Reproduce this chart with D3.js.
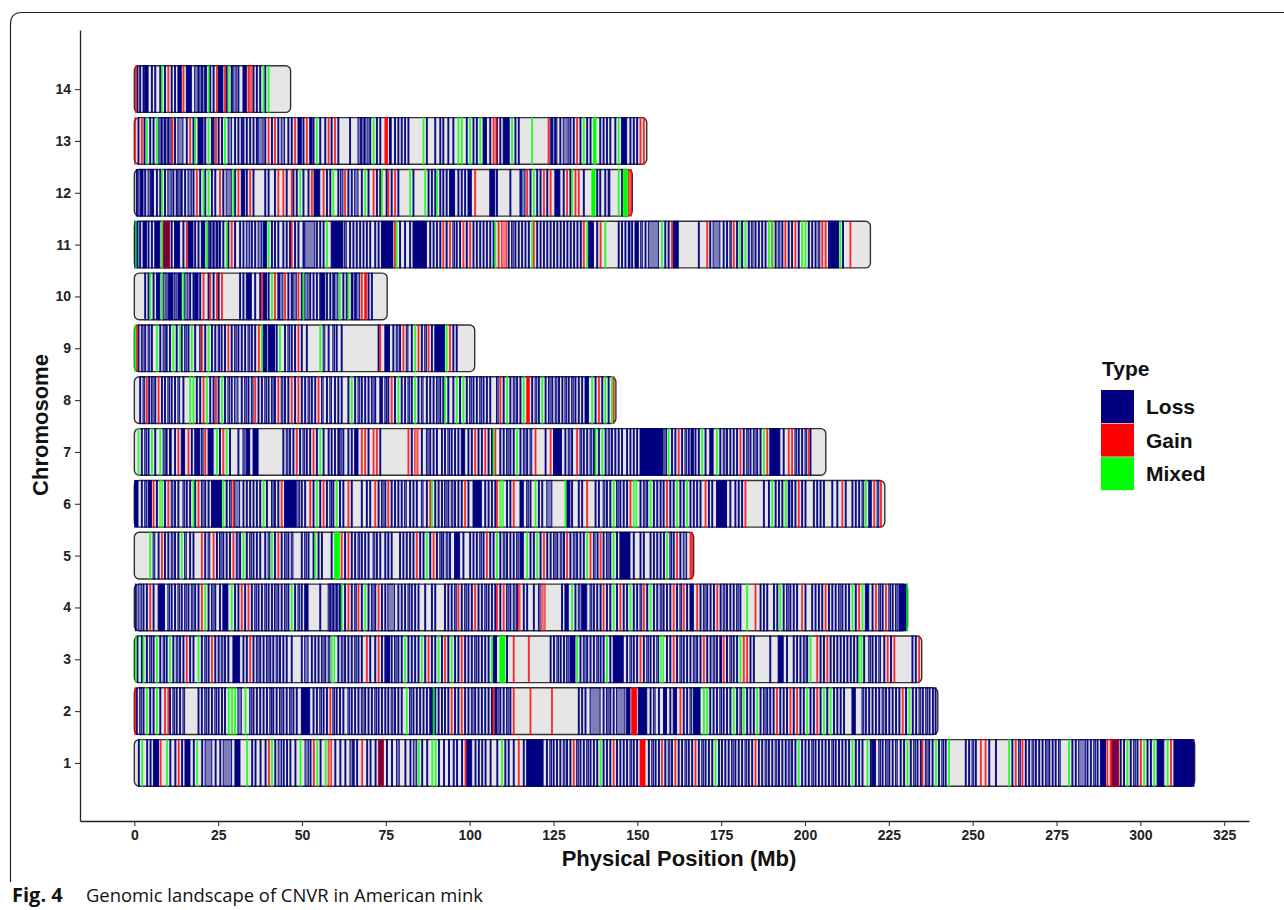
<!DOCTYPE html>
<html>
<head>
<meta charset="utf-8">
<script src="https://cdn.jsdelivr.net/npm/d3@7"></script>
<style>
  body { margin: 0; background: #fff; }
  svg { display: block; }
</style>
</head>
<body>
<div id="chart"></div>
<script>
// chromosome labels and lengths (Mb), chr1 first
const chromosomes = ["1","2","3","4","5","6","7","8","9","10","11","12","13","14"];
const chromLengths = [316.2, 239.6, 234.8, 230.6, 166.8, 223.8, 206.2, 143.6, 101.5, 75.4, 219.5, 148.5, 152.8, 46.6];

// CNVR positions in Mb, one list per chromosome (index 0 = chr1)
// a number = narrow CNVR starting there, [a, b] = wider CNVR, [a, b, 1] = dense cluster
const lossBands = [
  // chr1
  [1.2,3.7,4.7,[5.7,7.2,1],10.6,12.1,14.1,[15.1,16.6,1],17.6,20.1,[21.1,23.1],24.1,25.5,[26.5,29],[30,31.5,1],35,36,37.5,39,41.9,[42.9,43.9],44.4,45.4,46.4,47.9,[50.9,51.9],52.4,55.4,59.8,61.3,62.8,[64.3,65.1],65.3,66.3,69.3,70.3,71.8,[72.8,74.3,1],75.2,76.7,[78.2,79],80.7,82.2,[83.2,84.2],85.7,87.2,90.7,92.2,93.7,95.1,96.1,97.6,[99.1,100.6,1],101.6,102.6,103.6,104.6,106.1,108.1,110.5,111.5,113,116,[117,121.9,1],122.9,[123.9,124.4],124.9,125.9,126.9,[127.9,128.4],128.9,129.9,[131.9,132.4],132.9,133.9,[134.9,135.4],135.9,136.9,137.9,139.8,140.8,141.8,143.8,144.8,145.8,146.8,[147.8,148.3],148.8,149.8,153.3,[154.3,154.8],155.3,156.3,158.2,[159.2,159.7],160.2,162.2,163.2,[164.2,164.7],165.2,166.2,168.2,[169.2,169.7],170.2,171.2,172.2,174.2,175.1,176.1,177.1,[178.1,178.6],179.1,180.1,181.1,[182.1,182.6],183.1,184.1,186.1,187.1,[188.1,188.6],189.1,190.1,[191.1,191.6],192.1,193.1,194.1,[195,195.5],196,197,199,200,201,[202,202.5],203,204,205,206,207,[208,208.5],209,210,211,212,213,215,216,217,219.5,[220,221,1],[222,222.5],223,[224,224.5],225,226,[227,227.5],228.4,229.4,231.4,[232.4,232.9],233.4,234.4,[235.9,236.4],236.9,237.9,239.8,[240.8,241.3],241.8,247.8,248.8,[249.8,250.3],250.8,254.8,256.8,261.7,[263.7,264.2],265.7,266.7,[267.7,268.2],268.7,269.7,270.7,[271.7,272.2],272.7,273.7,274.6,[275.6,276.1],279.6,280.6,[281.6,283.6],284.1,285.1,[286.1,286.6],287.1,[288.1,289.6,1],[291.5,293.5,1],294,295,297,[298,298.5],299,302,303,[305,307,1],[310,316,1]],
  // chr2
  [0.6,[1.6,2.1],2.6,4.6,5.6,7.6,10.5,[11.5,12],12.5,13.5,[14.5,15],19,20,[21,21.5],22,23,[24,24.5],25,26,26.9,[30.9,31.9],[34.4,35],35.4,36.4,37.4,38.4,39.4,[40.4,40.9],41.3,42.3,[43.3,43.8],44.3,45.3,[46.3,46.8],47.3,48.3,[49.8,52.3,1],53.3,54.3,[55.3,55.8],56.3,57.3,[59.2,59.7],60.2,61.2,62.2,[63.7,64.2],64.7,65.7,66.7,[67.7,68.2],68.7,69.7,70.7,[71.7,72.2],72.7,73.7,74.7,75.6,[76.6,77.1],77.6,78.6,79.6,[82.1,82.6],83.1,84.1,85.1,86.1,87.1,88.1,[88.6,89.1,1],89.6,90.6,91.6,92.5,93.5,95.5,96.5,98.5,99.5,[100.5,101],101.5,102.5,103.5,104.5,105.5,106.5,107.5,[108,108.5],109,110,[111,111.5],112,132.4,133.4,134.4,[135.9,138.9],139.8,[140.8,141.3],141.8,142.8,[143.8,146.3],[146.8,147.8,1],[150.3,152.8,1],153.8,[154.8,155.3],156.3,[157.8,158.7,1],159.7,[160.7,161.7,1],163.7,164.7,[165.7,166.2],[166.7,168.7,1],171.6,172.6,173.6,[174.6,175.1],175.6,176.6,177.6,179.6,[180.6,181.1],182.6,183.6,184.6,186.6,[187.6,188.1],188.6,189.5,190.5,192.5,193.5,194.5,196.5,198.5,199.5,201.5,202.5,204.5,206.5,208.5,209.5,210.5,211.5,[214,215,1],[217,217.5],218,219,220,221,222,[223,223.5],224,225,226,227,228,230,232,233,[234,234.5],235,[236,236.5],237,238,238.8],
  // chr3
  [0.8,2.1,3.6,[4.6,5.1],5.6,7.6,[8.6,9],9.5,11.5,[12.5,13],13.5,14.5,16.5,17.5,20,[21,21.5],22,24,25,[25.9,26.4],26.9,27.9,[29.4,31.4,1],32.4,33.4,35.4,[36.4,36.9],37.4,38.4,[39.4,39.9],40.4,41.3,[42.3,42.8],43.3,44.3,45.3,46.8,49.8,[50.8,51.8],52.8,53.8,54.8,[55.8,56.3],56.8,[57.8,58.3],60.7,[61.7,62.2],62.7,63.7,64.7,[65.7,66.2],66.7,67.7,70.2,71.7,73.7,74.7,[75.2,76.1,1],76.6,[77.6,78.1],78.6,79.6,81.6,82.6,83.6,84.6,86.6,88.6,89.6,91.6,93.5,95.5,96.5,98.5,99.5,100.5,[101.5,102],102.5,103.5,104.5,105.5,[107,108,1],111,124,125,[126,126.5],127,128,[128.9,129.4],[129.9,131.4,1],132.9,[133.9,134.4],134.9,135.9,136.9,[137.9,138.4],138.9,139.8,141.8,[142.8,145.8,1],146.8,[147.8,148.3],148.8,149.8,151.8,[152.8,153.3],153.8,154.8,[155.8,156.3],158.7,159.7,161.7,[162.7,163.2],163.7,164.7,165.7,[166.7,167.2],167.7,168.7,170.7,171.7,[172.6,173.1],173.6,[174.6,175.1,1],176.6,[177.6,178.1],178.6,179.6,183.6,184.6,189.5,[192,193.5,1],194.5,196.5,197.5,198.5,[199.5,200],200.5,204.5,205.5,207.5,208.5,209.5,210.5,211.5,212.5,213.5,214.5,215.5,217.5,[219,219.5],220,221,[222,222.5],223.5,225.5,231.9,232.9],
  // chr4
  [0.3,[1.1,2.1],2.6,3.6,5.6,[7.1,9,1],[10,10.5],11,12,[13,13.5],14,[15,15.5],16,[17,17.5],18,19,22,[23,23.5],24,25.4,[26.4,27.9,1],29.9,30.9,32.9,34.9,[35.9,36.4],36.9,37.9,[38.9,39.4],39.9,40.9,[41.8,42.3],42.8,43.8,[44.8,45.3],45.8,47.8,[48.8,49.3],49.8,[50.8,51.8,1],55.3,[57.8,61.7],58.3,59.2,60.2,61.2,62.7,64.7,[65.7,66.2],67.7,69.7,[70.7,71.2],71.7,73.7,74.7,[75.6,77.6],78.6,79.6,80.6,[81.6,82.1],82.6,83.6,84.6,86.6,88.6,89.6,92.5,93.5,94.5,[95.5,96],97.5,[98.5,99],99.5,100.5,102.5,103.5,[104.5,105],105.5,106.5,107.5,109,[111,111.5],112,[113,113.5],114,116,117,119,[120.5,121],127.4,[128.4,129.4,1],131.4,[132.4,132.9],[133.4,134.9,1],[135.9,136.4],136.9,137.9,138.9,140.8,141.8,143.8,145.8,146.8,148.8,149.8,[150.8,151.3],152.8,154.8,155.8,[156.8,157.3],157.7,158.7,159.7,161.7,[162.7,163.2],164.7,[165.7,166.7,1],168.7,[169.7,170.2],170.7,171.7,172.7,174.7,[175.6,176.1],176.6,177.6,178.6,[179.6,180.1],180.6,186.6,187.6,188.6,190.6,191.6,193.5,[194.5,195],195.5,196.5,197.5,200,202,203,204,205,207,208,209,[210,210.5],211,212,213,215,[218,219,1],220,[222,222.5],223,[225,225.5],226,[227,227.5],[228,230.4,1]],
  // chr5
  [[5.6,6.1],7.1,9,10,[11,11.5],12,13,[15,15.5],16.5,17.5,21,[22,22.5],24.5,[25.4,25.9],26.4,27.4,28.4,[30.4,30.9],31.4,33.4,[34.4,34.9],35.4,36.4,37.4,38.9,[39.9,40.4],41.8,43.8,[44.8,45.3],45.8,[46.8,47.3],49.8,[50.8,51.3],51.8,53.3,54.8,55.8,58.7,62.7,64.7,65.7,[66.7,67.2],67.7,68.7,69.7,[71.2,71.7],72.2,73.2,74.7,75.6,76.6,79.1,80.1,81.1,82.1,83.1,85.1,86.1,88.1,90.1,[91.1,91.6],92,[93,93.5],94,[95.5,97,1],98,100,101,102,[103,103.5],104,106,107,109,[110,110.5],111,112,113,[114,114.5],[115,116,1],118,119,121,123,124,[125,125.5],126,[127,127.5],128,129.9,[130.9,131.4],131.9,132.9,133.9,[136.9,137.4],138,139.8,[140.8,141.3],141.8,143.8,[144.8,147.8,1],148.8,150.8,151.8,153.8,154.8,155.8,156.8,157.8,[159.7,160.2],160.7,162.7,[163.7,164.7]],
  // chr6
  [[0.1,1.1,1],2.1,[3.1,3.6],[4.1,5.1,1],6.6,9,[11,11.5],12,13,[14.5,15],15.5,16.5,18,[20,20.5],21,22,[23,26,1],27.4,[28.4,28.9],[29.9,31.4],32.4,33.4,34.4,35.4,36.4,37.4,39.4,[40.9,41.4],41.8,42.8,[44.8,48.3,1],[48.8,49.3],49.8,50.8,53.3,55.3,57.3,[58.3,58.8],59.2,61.2,62.2,64.7,67.7,69.2,70.2,72.7,[73.7,74.2],74.7,76.6,77.6,78.6,79.6,[80.6,81.1],82.1,83.1,84.1,[85.6,86.1],87.1,89.6,90.6,91.6,[92.5,93],93.5,[94.5,95],95.5,96.5,97.5,99.5,[101,103.5,1],104.5,105.5,106.5,107.5,111,112,[115,116,1],[117,117.5],118,120.5,121.5,[123,124.5],[129,129.9,1],130.4,132.4,133.4,137.4,138.4,[139.8,140.3],140.8,141.8,[143.8,144.3],144.8,145.8,146.8,150.8,[151.8,152.3],152.8,154.8,155.8,156.8,157.7,159.7,160.7,162.7,163.7,165.7,166.7,167.7,168.7,171.2,172.2,[173.6,176.6,1],177.6,179.1,180.1,181.1,187.6,189.1,191.1,192.1,193.1,[195,195.5,1],196,197,199,200,202.5,203.5,204.5,205.5,208,209.5,212,214,215,216,[217,217.5],219,219.5,[221.5,222]],
  // chr7
  [2.1,[3.1,3.6],4.1,6.1,[8.6,9.2],9.5,[10.5,11,1],12,[14,15,1],17,18,[18.5,19.5,1],[20,20.5],[22,23.5,1],25.4,28.4,30.9,[32.4,33],[33.4,34.4,1],[35.4,36.9,1],44.3,[45.3,45.8],46.3,47.3,49.3,[50.3,50.8],51.3,52.3,54.3,56.3,57.8,58.7,59.7,60.7,[61.2,61.7],62.2,63.7,64.7,[65.7,66.7,1],69.7,73.2,82.6,85.6,[87.1,87.6],88.1,89.1,90.1,91.6,92.5,[93.5,94],94.5,95.5,96.5,[97.5,98.5,1],99.5,100.5,102.5,103.5,105.5,106.5,109,110,[111,111.5],112,113,115,[116,116.5],117,[118,118.5],122.5,[125,127.4,1],128.4,[129.4,129.9],130.4,[132.9,133.4],133.9,134.9,[135.9,136.4],[136.9,137.4,1],138.4,140.4,[141.3,141.8],142.3,143.3,144.3,145.3,146.8,147.8,148.8,149.8,[150.8,157.7,1],[158.2,158.7],160.2,161.2,163.2,[164.2,164.7],165.2,[166,166.7,1],167.2,168.2,170.2,[171.6,172.6,1],174.6,[175.6,176.1],176.6,177.6,178.6,179.6,181.6,[182.6,183.1],183.6,[184.6,185.1],185.6,186.6,[189.5,192.5,1],193.5,[197,197.5],198,199,[200,200.5],201.5],
  // chr8
  [1.6,[2.6,3.1],4.3,[5.1,5.6],6.1,8.1,9,[10,10.5],11,12,[13,13.5],14.5,18.5,19.5,22.5,23.5,25,26.9,[27.9,28.4],28.9,[29.9,30.9],31.9,[32.9,33.4],33.9,[34.9,35.4],36.9,37.9,[38.9,39.4],39.9,[40.9,41.4],41.8,[43.8,44.3],44.8,45.8,47.8,49.8,50.8,[51.8,52.3],52.8,53.8,[55.8,56.3],57.3,[58.3,58.8],59.7,60.7,61.7,63.7,65.7,[66.7,67.2],67.7,68.7,69.7,[70.7,71.2],71.7,73.2,73.7,[74.7,75.2],75.6,77.6,79.6,80.6,[81.6,82.1],82.6,84.6,[85.6,86.1],87.1,88.1,89.1,[90.1,90.6],91.1,92,93.5,95,97,99,[100,100.5],101,102,[103,103.5],104,105,106,[108,108.5],110,112,[113,113.5],114,115,118.5,[119.5,120],120.5,122.5,[123.5,124],124.5,[125.5,126],126.5,127.5,[128.4,128.9],129.4,[130.4,130.9],131.4,132.4,133.4,[134.4,135.4,1],137.4,139.4,141.3],
  // chr9
  [1.1,[2.1,2.6],3.1,[4.1,4.6],5.1,7.6,[8.6,9.2],9.5,10.5,12.5,14,[15,15.5],16,18,[19.5,20],21,23,24,[25,25.4],25.9,26.9,28.9,[29.9,30.4],30.9,31.9,32.9,[33.9,34.4],34.9,35.9,[38.4,39.4,1],[39.9,41.8,1],42.3,44.8,[45.8,46.3],46.8,47.8,49.8,51.3,[56.3,56.8],57.8,[59.2,59.7],60.2,61.7,72.7,[74.7,76.1,1],77.1,[78.1,78.6],79.1,[81.1,81.6],82.6,85.6,[86.6,87.1],88.6,[89.6,92.5,1],95,96],
  // chr10
  [3.1,4.1,5.6,[6.6,7.6,1],[8.6,9.5],10,[10.5,11.5,1],[11.9,12.5],[13,14,1],[15,16],16.5,17.5,[18,19,1],19.5,22,23.5,25,31.4,32.4,[33.4,34.9,1],35.9,37.4,[38.4,39.4,1],39.9,42.8,[43.3,44.3],45.8,46.8,[47.3,48.3],49.8,[50.8,51.8],52.3,53.3,54.3,55.3,[55.8,56.8,1],57.3,58.3,59.2,[59.7,60.7],62.2,63.2,[64.7,65.2,1],65.7,[66.2,67.2],69.7,70.7],
  // chr11
  [[0.1,1.1,1],1.6,[2.6,3.6,1],4.1,5.1,[6.1,7.6,1],[8.6,10.5,1],11,[12,13.5,1],14.5,[16,17.5,1],18,19,[20,21,1],[22,25.4],22.5,23.5,24.5,25.4,26.4,27.9,29.9,31.4,32.4,[33.4,34.4],34.9,35.9,[36.9,37.9],[38.4,39.4,1],40.9,41.8,42.8,44.3,45.3,46.3,47.8,48.8,50.3,[50.8,53.8],54.3,55.3,56.3,[58.7,62.2,1],[62.7,63.2],64.2,65.2,66.2,67.2,68.2,69.2,70.2,71.7,72.7,[73.7,77.1,1],79.1,80.6,82.1,[83.1,87.1,1],88.1,89.1,90.1,91.1,93,[95,95.5],96,97,99,101,102,103,104,105,106,107,111.5,[112.5,113],113.5,114.5,115.5,116.5,117.5,120,121,122,123,124,125,126,127,128,129,130,131,132,133,[135.4,136.9,1],137.9,144.3,145.3,146.3,[147.3,147.8,1],148.3,[149.3,150.3,1],[151,151.5],152.3,[153.3,156.3],158.2,159.2,[160.7,162.2,1],168.2,171.6,[172.6,174.6],175.6,176.6,[177.6,178],179.6,181.1,183.1,[184,184.5],185.1,186.1,187.1,188.1,191.1,[192,192.5],193.1,195,196,198,201,202,203,[203.9,204.4],207,[207.5,210,1],211.2],
  // chr12
  [0.6,[1.1,1.8],[1.9,2.6,1],3.1,[4.1,4.8],[5.1,5.7,1],6.6,7.6,9,[10,11],11.5,12.5,[13,13.7],14,15,[16,17],17.5,19.5,21,23,24,26.4,[27.4,28.9],29.9,[31.9,32.9,1],33.4,35.4,38.9,39.9,41.8,45.3,47.3,48.3,50.3,51.8,[53.6,55.3,1],57.3,58.3,60.7,[61.5,62.2],63.7,64.7,[65.7,66.7],67.7,69.7,72.2,73.2,75.1,76.6,78.6,83.1,87.6,88.6,89.6,91.1,92,93,[94,95.5,1],96.5,97.5,98.5,[99.5,100.5,1],[106,107.5,1],108,112,115,[115.5,116.5],118,120,121,123,[125.4,126.9,1],127.9,129.9,133.9,137.9,138.8,140.3,[141.3,141.8,1],145.3],
  // chr13
  [1.1,2.9,4.6,5.6,[7.3,11],8,9,10,12,[13,14.5],15.5,17.5,[19,20.5,1],21,23,23.5,25,26,[28,29],29.9,30.9,31.9,32.4,33.4,34.4,35.4,36.4,[36.9,38.4],38.9,40.9,42.8,[43.8,44.8],45.8,46.8,[48.8,49.8,1],50.3,[52.3,53,1],53.3,55.3,56.8,58.7,60.7,64.2,[66.7,69.7],67.5,68.5,70.2,72.2,73.2,[76.1,76.6,1],77.6,78.6,79.6,80.6,81.6,87.1,89.6,91.1,92,93.5,95,99,101,102,[104,105,1],106,108,109,[110,111.8,1],113.5,114.5,[124,126],124.4,125.4,126.9,[127.9,129.4],129.9,130.9,132.9,134.9,135.9,138.8,139.8,140.8,141.8,143.3,[145.3,146.8,1],147.8,148.8,149.8],
  // chr14
  [0.8,1.6,2.6,[3.1,4.1,1],5.1,6.1,7.6,9,11,12,[13,14,1],[15.5,17,1],[18,21.5],19,20,21,22.5,23.5,[25,26.4,1],27.4,28.9,[29.4,30.4],30.9,[32.4,33.4,1],35.4,36.4,37.4,38.9]
];

const gainBands = [
  [7.7,13.1,40,53.4,[57.8,58.8],67.8,[72.8,74.3],98.6,114.5,130.9,142.8,[150.8,152.3,1],157.2,161.2,167.2,185.1,234.9,252.3,253.7,262.7,264.7,290,291,[291.5,293.5],300,309],
  [0.1,9.0,10,58.3,94.5,97.5,107,113,118,124.4,[148.3,149.8,1],162.7,191.5,195.5,197.5,203.5,229],
  [15.5,23,34.4,69.2,72.7,87.6,92.5,97.5,113,117.5,150.8,160.7,169.7,175.6,181.6,182.6,203.5,206.5,224.5,226.5,233.9],
  [4.6,20,31.9,33.9,63.7,66.7,72.7,96.5,101.5,108,110,[114.5,115],[121.5,122.5],139.8,144.8,151.8,160.7,163.7,167.7,173.7,185.1,199,206,216,221,224],
  [8.1,20,23.5,29.4,42.8,61.7,63.7,84.1,89.1,105,122,128.9,135.9,138.9,161.7,165.7,166.2],
  [5.6,10,19,29.4,43.8,52.3,56.3,63.7,71.7,75.6,88.1,98.5,108,113,134.9,147.8,158.7,170.2,182.1,198,211,220.5,222.5],
  [13,16,21,26.4,48.3,53.3,67.7,68.7,71.2,72.2,81.6,[83.6,84.6],101.5,104.5,107.5,119.5,124,131.9,162.2,180.6,188.6,195,196,201],
  [3.6,7.1,20.5,24.2,35.9,42.8,46.8,48.8,54.8,76.6,109,[117,117.8,1],138.4,142.8],
  [0.6,20,27.9,37,48.8,73.2,80.1,84.6,87.6,94],
  [20.5,22.5,24.5,26,37.9,41.8,44.8,48.8,67.7,[68.7,69.2,1]],
  [[8.6,10.5],15.5,28.9,46.8,77.6,92,94,98,100,108.5,[109.5,111],119,133.9,138.9,160.2,170.7,178.6,190.1,194,197,205,206,213.4],
  [18.5,25.4,30.9,34.4,42.8,44.3,46.8,52.8,56.3,62.7,71.2,75.6,77.6,101.5,117,122,124,128.9,131.4,132.4,147.3,148],
  [0.1,2.1,11.2,16.5,24.2,39.9,41.8,47.8,51.3,57.8,59.7,74.7,[75,75.5,1],107,107.8,123.4,131.9,150.8,151.8],
  [0.3,10,14.5,24.5,26.9,33.9,[34.4,35.1]]
];

const mixedBands = [
  [2.2,9.6,18.6,33.5,40.9,49.4,54.4,56.9,84.7,88.7,89.7,109.5,138.9,173.2,198,214,218.5,230.4,238.9,242.8,260.7,278.6,296,301,304,308],
  [3.6,6.6,28,29,29.9,33,81.1,89.1,169.7,170.7,178.6,181.6,185.6,200.5,205.5,207.5,231],
  [0.3,2.6,6.6,10.5,19,[58.8,59.7],80.6,85.6,90.6,94.5,106.5,[109,110.5,1],131.9,140.8,[156.8,157.8],180.6,201.5,[216,217]],
  [21,28.9,46.8,61.7,68.7,130.4,142.8,147.8,153.8,182.6,192.5,214,217,230.3],
  [4.6,14,32.4,40.9,53.8,[59.7,61.2,1],87.1,108,117,120,134.9,142.8,158.7],
  [[7.6,8.4],17.5,26.4,38.4,54.3,60.2,88.6,[109,110],119.5,128.4,142.8,[148.8,149.8],153.8,161.7,164.7,190.1,194.1,218],
  [1.1,5.1,7.6,24.5,27.4,55.3,107,114,137.4,139.4,159.2,169.2,173.6,187.6],
  [16.5,17.5,21.5,26,64.7,78.6,83.6,92.5,96,98,111,116,121.5,136.4,140.3,142.3],
  [0.1,6.6,11.5,13.5,17,22,37.9,43.3,55.3,83.6,93],
  [4.6,8.1,14.5,40.9,50.3,61.2,63.7],
  [0.3,8.1,21.5,27.4,39.9,57.3,78.1,107.5,118.5,134.9,140.3,157.2,180.4,182.1,189.1,190.1,199,200,210.4],
  [8.1,20.5,22,29.4,49.3,59.2,68.7,73.7,82.1,86.6,90.1,119,130.4,[136.4,137.4,1],144.3,[145.8,147,1]],
  [3.6,6.6,18,22,26.9,54.3,71.2,86.1,96.5,97.5,100,103,112.5,118.5,133.9,[136.9,137.7,1],144.3],
  [8.1,22,28,38.4,39.9]
];

const typeNames = ["Loss", "Gain", "Mixed"];
const typeColors = ["#000080", "#ff0000", "#00ff00"];
const xTickValues = [0, 25, 50, 75, 100, 125, 150, 175, 200, 225, 250, 275, 300, 325];

const width = 1284, height = 910;
const bandHalf = 0.45;   // half height of a chromosome, in chromosome units
const thinWidth = 0.28;  // Mb width of a narrow CNVR

const svg = d3.select("#chart").append("svg")
  .attr("width", width)
  .attr("height", height)
  .style("font-family", "'Liberation Sans', Arial, sans-serif");

// figure frame
svg.append("path")
  .attr("d", "M10.5,882 V24 Q10.5,12.5 22,12.5 H1284")
  .attr("fill", "none")
  .attr("stroke", "#222")
  .attr("stroke-width", 1.2);

const x = d3.scaleLinear().domain([-16.2, 332.4]).range([80, 1249]);
const y = d3.scaleLinear().domain([-0.12, 15.14]).range([821, 30]);

const plot = svg.append("g");

// chromosome bodies
plot.selectAll("rect.chrom")
  .data(chromosomes)
  .join("rect")
  .attr("class", "chrom")
  .attr("x", (d, i) => x(0))
  .attr("y", (d, i) => y(i + 1 + bandHalf))
  .attr("width", (d, i) => x(chromLengths[i]) - x(0))
  .attr("height", (d, i) => y(i + 1 - bandHalf) - y(i + 1 + bandHalf))
  .attr("rx", 5)
  .attr("fill", "#e6e6e6")
  .attr("stroke", "#333")
  .attr("stroke-width", 1.4);

function toSegment(entry, chromIndex, typeIndex) {
  if (typeof entry === "number") {
    return {chrom: chromIndex, type: typeIndex, start: entry, end: entry + thinWidth, solid: false};
  }
  return {chrom: chromIndex, type: typeIndex, start: entry[0], end: entry[1], solid: entry[2] === 1};
}

const allTypes = [lossBands, gainBands, mixedBands];
allTypes.forEach(function(bandsByChrom, t) {
  let segments = [];
  bandsByChrom.forEach(function(list, c) {
    list.forEach(function(entry) {
      segments.push(toSegment(entry, c, t));
    });
  });

  plot.append("g")
    .selectAll("rect")
    .data(segments)
    .join("rect")
    .attr("x", d => x(d.start))
    .attr("width", d => Math.max(x(d.end) - x(d.start), 0.8))
    .attr("y", d => y(d.chrom + 1 + bandHalf))
    .attr("height", d => y(d.chrom + 1 - bandHalf) - y(d.chrom + 1 + bandHalf))
    .attr("fill", typeColors[t])
    .attr("fill-opacity", d => d.solid ? 1 : 0.45)
    .attr("stroke", typeColors[t])
    .attr("stroke-width", 1)
    .attr("stroke-opacity", t === 0 ? 0.92 : 0.72);
});

// axes
const xAxis = svg.append("g")
  .attr("transform", "translate(0," + y(-0.12) + ")")
  .call(d3.axisBottom(x).tickValues(xTickValues).tickSize(5).tickPadding(4).tickSizeOuter(0));

const yAxis = svg.append("g")
  .attr("transform", "translate(" + x(-16.2) + ",0)")
  .call(d3.axisLeft(y)
    .tickValues(d3.range(1, chromosomes.length + 1))
    .tickFormat(d => chromosomes[d - 1])
    .tickSize(5).tickPadding(4).tickSizeOuter(0));

[xAxis, yAxis].forEach(function(a) {
  a.select(".domain").attr("stroke", "#222").attr("stroke-width", 1.3);
  a.selectAll(".tick line").attr("stroke", "#333").attr("stroke-width", 1.1);
  a.selectAll(".tick text")
    .attr("fill", "#222")
    .style("font-family", "'Liberation Sans', Arial, sans-serif")
    .style("font-size", "14px")
    .style("font-weight", "bold");
});

svg.append("text")
  .attr("x", 679)
  .attr("y", 866)
  .attr("text-anchor", "middle")
  .style("font-size", "22px")
  .style("font-weight", "bold")
  .attr("fill", "#111")
  .text("Physical Position (Mb)");

svg.append("text")
  .attr("transform", "translate(48,425) rotate(-90)")
  .attr("text-anchor", "middle")
  .style("font-size", "22px")
  .style("font-weight", "bold")
  .attr("fill", "#111")
  .text("Chromosome");

// legend
const legend = svg.append("g").attr("transform", "translate(1101,0)");
legend.append("text")
  .attr("x", 1)
  .attr("y", 376)
  .style("font-size", "21px")
  .style("font-weight", "bold")
  .attr("fill", "#111")
  .text("Type");

legend.selectAll("rect")
  .data(typeNames)
  .join("rect")
  .attr("x", 0)
  .attr("y", (d, i) => 390 + i * 33.6)
  .attr("width", 33)
  .attr("height", 33)
  .attr("fill", (d, i) => typeColors[i]);

legend.selectAll("text.lab")
  .data(typeNames)
  .join("text")
  .attr("class", "lab")
  .attr("x", 45)
  .attr("y", (d, i) => 390 + i * 33.6 + 16.5)
  .attr("dy", "0.36em")
  .style("font-size", "21px")
  .style("font-weight", "bold")
  .attr("fill", "#111")
  .text(d => d);

// caption
const caption = svg.append("g")
  .style("font-family", "'Open Sans', 'Noto Sans', sans-serif")
  .attr("fill", "#111");
caption.append("text")
  .attr("x", 12)
  .attr("y", 902)
  .style("font-size", "20px")
  .style("font-weight", "bold")
  .text("Fig. 4");
caption.append("text")
  .attr("x", 86)
  .attr("y", 902)
  .style("font-size", "18.4px")
  .text("Genomic landscape of CNVR in American mink");
</script>
</body>
</html>
